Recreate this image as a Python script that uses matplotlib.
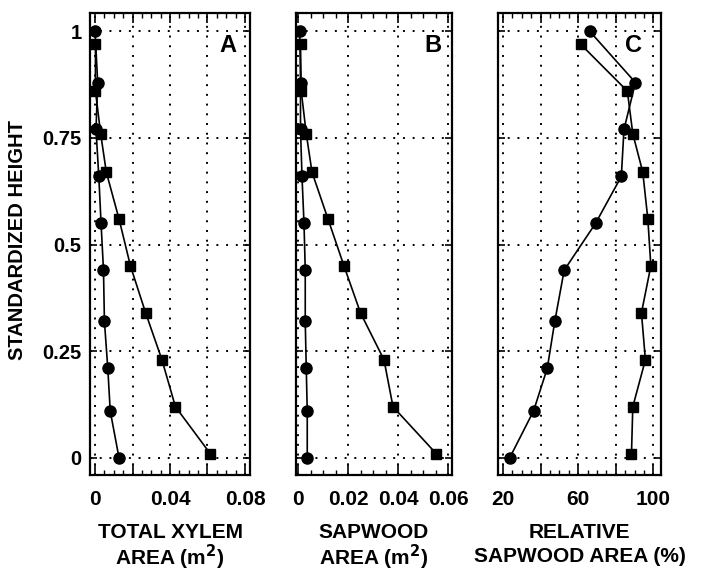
import matplotlib
matplotlib.use("Agg")
import matplotlib.pyplot as plt
from matplotlib.ticker import MultipleLocator, FixedLocator

plt.rcParams['font.family'] = ['Liberation Sans', 'DejaVu Sans']
plt.rcParams['font.weight'] = 'bold'

# Standardized heights of the two sampled stems
height_circ = [0.0, 0.11, 0.21, 0.32, 0.44, 0.55, 0.66, 0.77, 0.88, 1.0]
height_sq = [0.01, 0.12, 0.23, 0.34, 0.45, 0.56, 0.67, 0.76, 0.86, 0.97]

# A: total xylem area (m2)
xylem_circ = [0.0128, 0.0081, 0.0068, 0.0050, 0.0045, 0.0032, 0.0020, 0.0005, 0.0014, 0.0]
xylem_sq = [0.0615, 0.0429, 0.0357, 0.0270, 0.0189, 0.0128, 0.0060, 0.0030, 0.0002, 0.0002]

# B: sapwood area (m2)
sap_circ = [0.0037, 0.0037, 0.0033, 0.0029, 0.0029, 0.0024, 0.0016, 0.0010, 0.0010, 0.0007]
sap_sq = [0.0553, 0.0380, 0.0344, 0.0250, 0.0184, 0.0120, 0.0056, 0.0033, 0.0013, 0.0010]

# C: relative sapwood area (%)
rel_circ = [23.5, 36.2, 43.5, 47.5, 52.5, 69.2, 82.9, 84.3, 90.4, 66.1]
rel_sq = [88.3, 89.0, 95.7, 93.6, 98.6, 97.0, 94.3, 89.0, 86.1, 61.2]

panels = [
    dict(circ=xylem_circ, sq=xylem_sq, xlim=(-0.0027, 0.0827),
         major=[0, 0.02, 0.04, 0.06, 0.08], minor=0.005,
         labels={0: '0', 0.04: '0.04', 0.08: '0.08'},
         letter='A', lx=0.86,
         xlabel=('TOTAL XYLEM', 'AREA (m$^\\mathbf{2}$)')),
    dict(circ=sap_circ, sq=sap_sq, xlim=(-0.0008, 0.0616),
         major=[0, 0.02, 0.04, 0.06], minor=0.005,
         labels={0: '0', 0.02: '0.02', 0.04: '0.04', 0.06: '0.06'},
         letter='B', lx=0.88,
         xlabel=('SAPWOOD', 'AREA (m$^\\mathbf{2}$)')),
    dict(circ=rel_circ, sq=rel_sq, xlim=(17.3, 104.0),
         major=[20, 40, 60, 80, 100], minor=5,
         labels={20: '20', 60: '60', 100: '100'},
         letter='C', lx=0.83,
         xlabel=('RELATIVE', 'SAPWOOD AREA (%)')),
]

W, H = 703, 574
fig = plt.figure(figsize=(W / 100, H / 100), dpi=100)

lefts = [90, 296, 498]
widths = [160, 156, 163]
top_px, bot_px = 13, 475

for i, p in enumerate(panels):
    ax = fig.add_axes([lefts[i] / W, 1 - bot_px / H, widths[i] / W, (bot_px - top_px) / H])
    ax.plot(p['circ'], height_circ, color='black', lw=1.2, marker='o', ms=8,
            mfc='black', mec='black', zorder=3)
    ax.plot(p['sq'], height_sq, color='black', lw=1.2, marker='s', ms=6.8,
            mfc='black', mec='black', zorder=3)
    ax.set_xlim(*p['xlim'])
    ax.set_ylim(-0.04, 1.043)

    ax.xaxis.set_major_locator(FixedLocator(p['major']))
    ax.xaxis.set_minor_locator(MultipleLocator(p['minor']))
    ax.set_xticklabels([p['labels'].get(round(v, 4), '') for v in p['major']])
    ax.yaxis.set_major_locator(FixedLocator([0, 0.25, 0.5, 0.75, 1.0]))
    ax.set_yticklabels(['0', '0.25', '0.5', '0.75', '1'])

    ax.grid(True, which='major', color='black', lw=1.4, linestyle=(0, (1, 4)))
    ax.set_axisbelow(True)

    ax.tick_params(axis='x', which='major', direction='in', length=7, width=1.2,
                   top=True, bottom=True, labelsize=15, pad=11)
    ax.tick_params(axis='x', which='minor', direction='in', length=3.5, width=1.0,
                   top=True, bottom=True)
    ax.tick_params(axis='y', which='major', direction='in', length=5, width=1.2,
                   left=True, right=True, labelsize=14.5, pad=6,
                   labelleft=(i == 0))
    for lab in ax.get_xticklabels() + ax.get_yticklabels():
        lab.set_fontweight('bold')

    for s in ax.spines.values():
        s.set_linewidth(1.6)

    ax.text(p['lx'], 0.93, p['letter'], transform=ax.transAxes, fontsize=17,
            fontweight='bold', ha='center', va='center')

    cx = (lefts[i] + widths[i] / 2) / W
    line1, line2 = p['xlabel']
    fig.text(cx, 1 - 533 / H, line1, ha='center', va='center',
             fontsize=15, fontweight='bold')
    fig.text(cx, 1 - 557 / H, line2, ha='center', va='center',
             fontsize=15, fontweight='bold')

fig.text(18 / W, 1 - 240 / H, 'STANDARDIZED HEIGHT', rotation=90,
         ha='center', va='center', fontsize=14.5, fontweight='bold')

fig.savefig('out.png', dpi=100)
